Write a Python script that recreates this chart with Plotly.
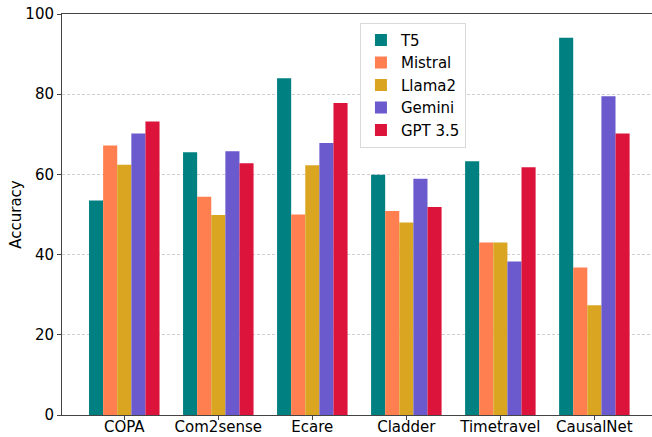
import plotly.graph_objects as go

categories = ["COPA", "Com2sense", "Ecare", "Cladder", "Timetravel", "CausalNet"]
t5 = [53.5, 65.5, 84.0, 59.9, 63.3, 94.1]
mistral = [67.2, 54.4, 50.0, 50.9, 43.0, 36.8]
llama2 = [62.4, 49.9, 62.3, 48.0, 43.0, 27.4]
gemini = [70.2, 65.8, 67.8, 58.9, 38.3, 79.5]
gpt35 = [73.2, 62.8, 77.8, 51.9, 61.8, 70.2]

series = [
    ("T5", t5, "#008080"),
    ("Mistral", mistral, "#FF7F50"),
    ("Llama2", llama2, "#DAA520"),
    ("Gemini", gemini, "#6A5ACD"),
    ("GPT 3.5", gpt35, "#DC143C"),
]

fig = go.Figure()
for name, vals, color in series:
    fig.add_trace(go.Bar(x=categories, y=vals, name=name,
                         marker=dict(color=color, line=dict(width=0))))

font = "DejaVu Sans, sans-serif"
fig.update_layout(
    width=652, height=437,
    barmode="group", bargap=0.25, bargroupgap=0,
    margin=dict(l=62, r=0, t=14, b=22, autoexpand=False),
    paper_bgcolor="white", plot_bgcolor="white",
    font=dict(family=font, size=15, color="black"),
    legend=dict(x=0.505, y=0.978, xanchor="left", yanchor="top",
                bgcolor="white", bordercolor="#d9d9d9", borderwidth=1,
                font=dict(size=15), tracegroupgap=0),
    xaxis=dict(range=[-0.6625, 5.613], showline=True, linecolor="#444", linewidth=1,
               mirror=True, ticks="outside", ticklen=4, tickcolor="#444",
               showgrid=False, tickfont=dict(size=15), automargin=False,
               ticklabelstandoff=-6),
    yaxis=dict(range=[0, 100], dtick=20, showline=True, linecolor="#444", linewidth=1,
               ticks="outside", ticklen=4, tickcolor="#444",
               showgrid=True, gridcolor="#cfcfcf", griddash="3px,2px", gridwidth=0.8,
               zeroline=False, tickfont=dict(size=15), automargin=False,
               title=dict(text="Accuracy", font=dict(size=15), standoff=0)),
)

fig.write_html("out.html", config={"displayModeBar": False},
               post_script="document.body.style.margin='0';document.body.style.overflow='hidden';")
